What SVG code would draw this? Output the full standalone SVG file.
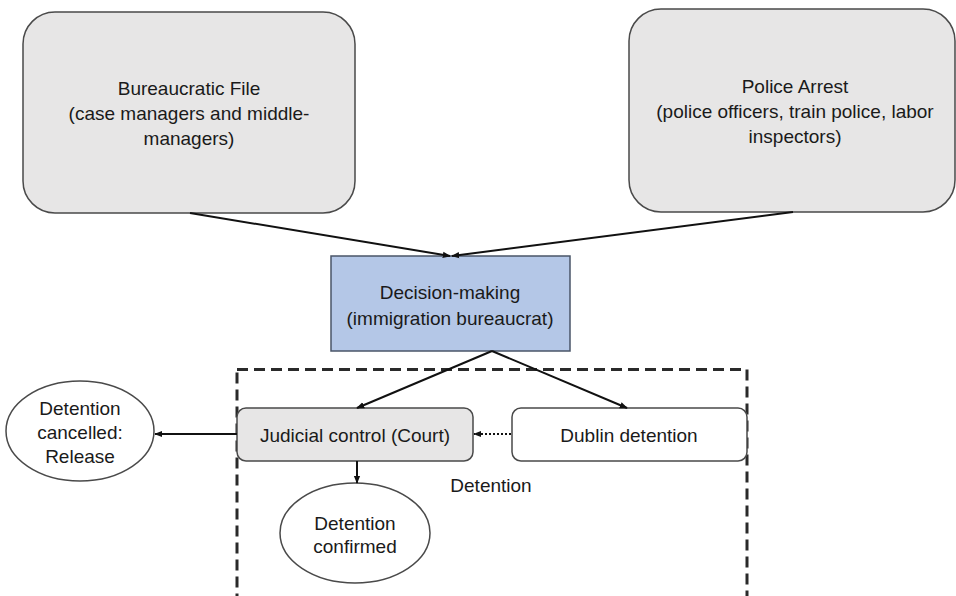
<svg xmlns="http://www.w3.org/2000/svg" width="956" height="596" viewBox="0 0 956 596">
<style>
text{font-family:"Liberation Sans",Arial,sans-serif;font-size:19px;fill:#1a1a1a;text-anchor:middle}
.gray{fill:#e7e6e6;stroke:#4a4a4a;stroke-width:1.5}
.white{fill:#ffffff;stroke:#4a4a4a;stroke-width:1.5}
.blue{fill:#b4c7e7;stroke:#4a5568;stroke-width:1.5}
.conn{stroke:#111;stroke-width:2;fill:none}
.dot{stroke:#111;stroke-width:2;fill:none;stroke-dasharray:2 2}
.frame{fill:none;stroke:#2a2a2a;stroke-width:3;stroke-dasharray:11 6}
</style>
<defs>
<marker id="ah" viewBox="0 0 10 10" refX="9" refY="5" markerWidth="4" markerHeight="4" orient="auto" markerUnits="strokeWidth">
<path d="M0,1 L10,5 L0,9 z" fill="#111"/>
</marker>
</defs>
<rect x="0" y="0" width="956" height="596" fill="#ffffff"/>

<g id="detention-frame">
<rect class="frame" x="237" y="369.5" width="510" height="228"/>
<text x="491" y="492">Detention</text>
</g>

<g id="bureaucratic-file">
<rect class="gray" x="23" y="12" width="332" height="201" rx="32" ry="32"/>
<text x="189" y="95">Bureaucratic File</text>
<text x="189" y="120">(case managers and middle-</text>
<text x="189" y="145">managers)</text>
</g>

<g id="police-arrest">
<rect class="gray" x="629" y="9" width="326" height="203" rx="32" ry="32"/>
<text x="795" y="93">Police Arrest</text>
<text x="795" y="118">(police officers, train police, labor</text>
<text x="795" y="143">inspectors)</text>
</g>

<g id="decision-making">
<rect class="blue" x="331" y="256" width="239" height="95"/>
<text x="450" y="299">Decision-making</text>
<text x="450" y="325">(immigration bureaucrat)</text>
</g>

<g id="judicial-control">
<rect class="gray" x="237" y="408" width="236" height="53" rx="9" ry="9"/>
<text x="355" y="442">Judicial control (Court)</text>
</g>

<g id="dublin-detention">
<rect class="white" x="512" y="408" width="235" height="53" rx="9" ry="9"/>
<text x="629" y="442">Dublin detention</text>
</g>

<g id="detention-cancelled">
<ellipse class="white" cx="80" cy="431" rx="74" ry="50"/>
<text x="80" y="415">Detention</text>
<text x="80" y="439">cancelled:</text>
<text x="80" y="463">Release</text>
</g>

<g id="detention-confirmed">
<ellipse class="white" cx="355" cy="533" rx="75" ry="50"/>
<text x="355" y="530">Detention</text>
<text x="355" y="553">confirmed</text>
</g>

<g id="connectors">
<line class="conn" x1="190" y1="213" x2="450" y2="256" marker-end="url(#ah)"/>
<line class="conn" x1="793" y1="212" x2="452" y2="256" marker-end="url(#ah)"/>
<line class="conn" x1="492" y1="351" x2="357" y2="408" marker-end="url(#ah)"/>
<line class="conn" x1="492" y1="351" x2="627" y2="408" marker-end="url(#ah)"/>
<line class="dot" x1="511" y1="434" x2="474" y2="434" marker-end="url(#ah)"/>
<line class="conn" x1="237" y1="434" x2="155" y2="434" marker-end="url(#ah)"/>
<line class="conn" x1="357" y1="461" x2="357" y2="483" marker-end="url(#ah)"/>
</g>
</svg>
